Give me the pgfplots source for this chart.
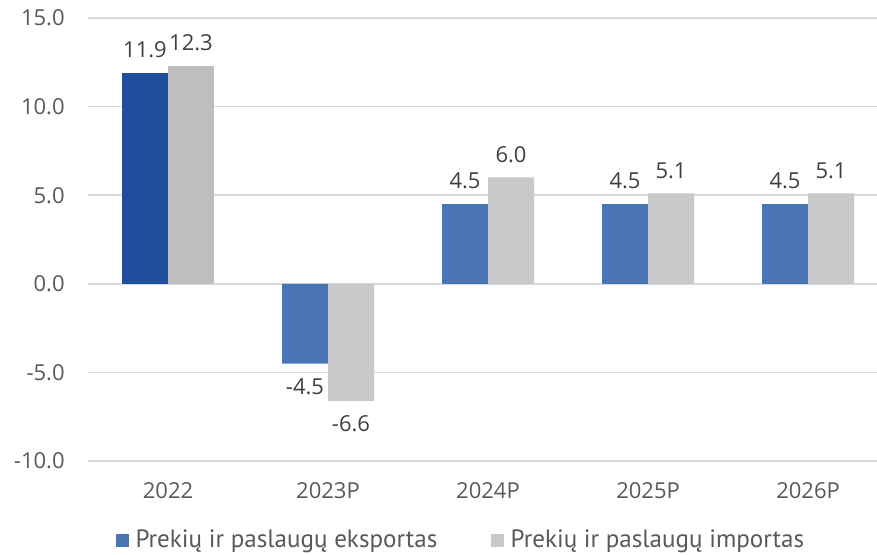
\documentclass[border=0pt]{standalone}
\usepackage{pgfplots}
\pgfplotsset{compat=1.18}
\usepackage{fontspec}
\setmainfont{Open Sans}
\newfontfamily\legfont{PT Sans}
\definecolor{blueA}{HTML}{1F4E9C}
\definecolor{blueB}{HTML}{4A74B4}
\definecolor{greyA}{HTML}{BDBEC0}
\definecolor{greyB}{HTML}{C8C9CA}
\definecolor{txt}{HTML}{404040}
\definecolor{tickc}{HTML}{595959}
\definecolor{gridc}{HTML}{D9D9D9}
\begin{document}
\begin{tikzpicture}
\useasboundingbox (0pt,0pt) rectangle (657.75pt,415.5pt);
\begin{axis}[
  at={(66pt,69.75pt)}, anchor=south west,
  scale only axis, width=591.75pt, height=332.25pt,
  xmin=-0.5, xmax=4.431, ymin=-10, ymax=15,
  ytick={-10,-5,0,5,10,15},
  xtick={0,1,2,3,4},
  xticklabels={2022,2023P,2024P,2025P,2026P},
  /pgf/number format/assume math mode=true,
  yticklabel style={/pgf/number format/fixed, /pgf/number format/fixed zerofill, /pgf/number format/precision=1, xshift=-14pt},
  ticklabel style={font=\fontsize{16.5}{19}\selectfont, text=tickc},
  xticklabel style={yshift=-8pt},
  axis line style={draw=none},
  major tick style={draw=none},
  ymajorgrids, grid style={gridc, line width=1.2pt},
  ybar, bar width=34.5pt,
  nodes near coords,
  nodes near coords style={font=\fontsize{16.5}{19}\selectfont, text=txt, inner ysep=11pt,
    /pgf/number format/fixed, /pgf/number format/fixed zerofill, /pgf/number format/precision=1, /pgf/number format/assume math mode=true},
  legend columns=2,
  legend style={draw=none, at={(0.473,-0.178)}, anchor=center,
    font=\legfont\fontsize{18.8}{22}\selectfont, text=tickc,
    /tikz/every even column/.append style={column sep=38pt}},
  legend image code/.code={\fill[#1] (0pt,-5.5pt) rectangle (10pt,4.5pt); \path (0pt,0pt) -- (13pt,0pt);},
]
\addplot[fill=blueB, draw=none, bar shift=-17.25pt] coordinates {(1,-4.5) (2,4.5) (3,4.5) (4,4.5)};
\addlegendentry{Prekių ir paslaugų eksportas}
\addplot[fill=greyB, draw=none, bar shift=17.25pt] coordinates {(1,-6.6) (2,6.0) (3,5.1) (4,5.1)};
\addlegendentry{Prekių ir paslaugų importas}
\addplot[fill=blueA, draw=none, bar shift=-17.25pt, forget plot] coordinates {(0,11.9)};
\addplot[fill=greyA, draw=none, bar shift=17.25pt, forget plot] coordinates {(0,12.3)};
\end{axis}
\end{tikzpicture}
\end{document}
